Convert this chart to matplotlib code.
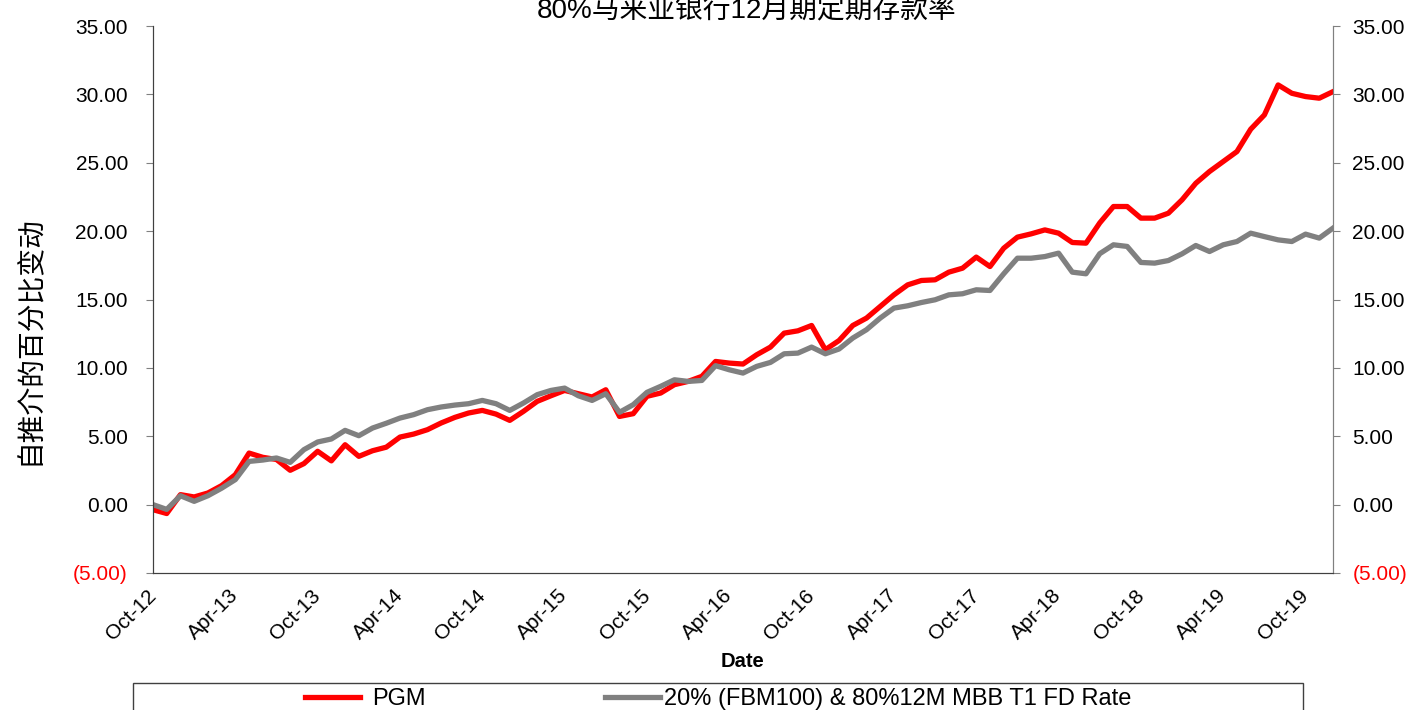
import matplotlib
matplotlib.use('Agg')
import matplotlib.pyplot as plt
from matplotlib.patches import Rectangle
import pandas as pd

plt.rcParams['font.family'] = ['Liberation Sans', 'Noto Sans CJK SC', 'DejaVu Sans']

# monthly, Oct-12 .. Dec-19
months = pd.date_range('2012-10-01', periods=87, freq='MS')
month_labels = [d.strftime('%b-%y') for d in months]

pgm = [-0.37, -0.65, 0.73, 0.56, 0.85, 1.39, 2.19, 3.77, 3.46, 3.3, 2.51, 3.0, 3.9, 3.2, 4.38, 3.53, 3.94, 4.2,
       4.94, 5.16, 5.48, 5.97, 6.38, 6.7, 6.89, 6.62, 6.16, 6.82, 7.55, 7.96, 8.35, 8.11, 7.87, 8.4, 6.45,
       6.65, 7.92, 8.16, 8.77, 9.01, 9.38, 10.47, 10.35, 10.28, 10.96, 11.52, 12.54, 12.71, 13.1, 11.33, 12.0, 13.1,
       13.64, 14.49, 15.34, 16.07, 16.39, 16.44, 17.0, 17.29, 18.1, 17.41, 18.75, 19.56, 19.8, 20.09, 19.85, 19.17, 19.12,
       20.6, 21.8, 21.8, 20.95, 20.95, 21.31, 22.29, 23.5, 24.36, 25.09, 25.82, 27.45, 28.5, 30.69, 30.08, 29.84, 29.72, 30.2]

bench = [0.0, -0.35, 0.65, 0.24, 0.65, 1.2, 1.83, 3.16, 3.26, 3.41, 3.09, 4.02, 4.58, 4.8, 5.43, 5.04, 5.6, 5.95,
         6.33, 6.58, 6.94, 7.14, 7.28, 7.38, 7.62, 7.38, 6.89, 7.43, 8.04, 8.35, 8.52, 7.96, 7.62, 8.11, 6.75,
         7.31, 8.21, 8.65, 9.13, 9.01, 9.08, 10.16, 9.86, 9.62, 10.11, 10.4, 11.03, 11.08, 11.52, 11.03, 11.38, 12.18,
         12.79, 13.64, 14.37, 14.54, 14.78, 14.98, 15.34, 15.42, 15.71, 15.66, 16.88, 18.02, 18.02, 18.14, 18.39, 17.0, 16.88,
         18.35, 19.0, 18.88, 17.71, 17.66, 17.85, 18.34, 18.95, 18.51, 19.0, 19.24, 19.85, 19.6, 19.36, 19.24, 19.78, 19.49, 20.22]

series_names = ['PGM', '20% (FBM100) & 80%12M MBB T1 FD Rate']
title = '80%马来业银行12月期定期存款率'
ylabel = '自推介的百分比变动'
y_ticks = list(range(-5, 36, 5))
y_labels = [f'({abs(v):.2f})' if v < 0 else f'{v:.2f}' for v in y_ticks]

fig = plt.figure(figsize=(14.1, 7.1), dpi=100)
ax = fig.add_axes([153 / 1410, 1 - 573 / 710, (1333 - 153) / 1410, (573 - 26) / 710])

x = list(range(len(pgm)))
l1, = ax.plot(x, pgm, color='#FF0000', lw=3.8, solid_joinstyle='round', label=series_names[0])
l2, = ax.plot(x, bench, color='#808080', lw=3.8, solid_joinstyle='round', label=series_names[1])

ax.set_xlim(0, len(pgm) - 1)
ax.set_ylim(-5, 35)

ax2 = ax.twinx()
ax2.set_ylim(-5, 35)
for a, pad in ((ax, 13), (ax2, 9)):
    a.set_yticks(y_ticks)
    a.set_yticklabels(y_labels)
    a.tick_params(axis='y', direction='out', length=5, labelsize=15, pad=pad, color='#808080')
    for v, lab in zip(y_ticks, a.get_yticklabels()):
        if v < 0:
            lab.set_color('red')

tick_pos = list(range(0, len(pgm), 6))
ax.set_xticks(tick_pos)
ax.set_xticklabels([month_labels[i] for i in tick_pos], rotation=45, ha='right', va='center',
                   rotation_mode='anchor')
ax.tick_params(axis='x', length=0, labelsize=15, pad=14)

for a in (ax, ax2):
    a.spines['top'].set_visible(False)
    a.spines['left'].set_color('#404040')
    a.spines['right'].set_color('#808080')
    a.spines['bottom'].set_color('#404040')

ax.set_xlabel('Date', fontsize=14.5, fontweight='bold', labelpad=6)
fig.text(747 / 1410, 1 - 18 / 710, title, fontsize=20, ha='center', va='baseline')
fig.text(30 / 1410, 1 - 340 / 710, ylabel, fontsize=20, rotation=90, ha='center', va='center')

fig.patches.append(Rectangle((133 / 1410, -0.05), (1303 - 133) / 1410, 0.05 + (710 - 683) / 710,
                             transform=fig.transFigure, fill=False, edgecolor='#404040', lw=1))
fig.legend(handles=[l1], loc='center left', bbox_to_anchor=(305 / 1410, 1 - 699 / 710),
           frameon=False, fontsize=17, handlelength=2.35, handletextpad=0.5,
           borderaxespad=0, borderpad=0)
fig.legend(handles=[l2], loc='center left', bbox_to_anchor=(605 / 1410, 1 - 699 / 710),
           frameon=False, fontsize=17, handlelength=2.35, handletextpad=0.15,
           borderaxespad=0, borderpad=0)

fig.savefig('out.png', dpi=100)
